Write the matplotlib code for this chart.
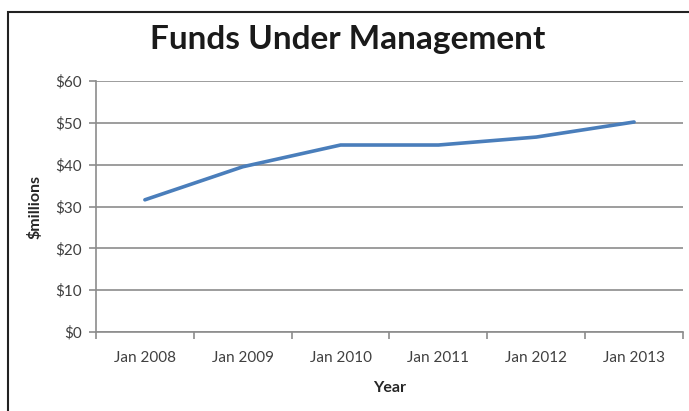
import matplotlib
matplotlib.use("Agg")
import matplotlib.pyplot as plt
from matplotlib.patches import Rectangle
import numpy as np

years = ["Jan 2008", "Jan 2009", "Jan 2010", "Jan 2011", "Jan 2012", "Jan 2013"]
funds = [31.6, 39.5, 44.7, 44.7, 46.6, 50.2]
yticks = [0, 10, 20, 30, 40, 50, 60]

plt.rcParams['font.family'] = ['Lato', 'DejaVu Sans']

fig = plt.figure(figsize=(6.89, 4.11), dpi=100)
ax = fig.add_axes([0.1393, 0.1922, 0.852, 0.6107])

x = np.arange(len(years))
ax.plot(x, funds, color="#4a7ebb", linewidth=2.6, solid_capstyle="round", zorder=3)

ax.set_xlim(-0.5, len(years) - 0.5)
ax.set_ylim(0, 60)
ax.set_yticks(yticks)
ax.set_yticklabels([f"${v}" for v in yticks], color="#404040", fontsize=11)
ax.yaxis.grid(True, color="#8c8c8c", linewidth=1.2)
ax.set_axisbelow(True)

ax.set_xticks(np.arange(-0.5, len(years)))
ax.set_xticklabels([])
ax.set_xticks(x, minor=True)
ax.set_xticklabels(years, minor=True, color="#404040", fontsize=11)
ax.tick_params(axis="x", which="minor", length=0, pad=14)
ax.tick_params(axis="x", which="major", length=5, color="#8c8c8c", width=1.2)
ax.tick_params(axis="y", length=5, color="#8c8c8c", width=1.2, pad=5)

for s in ["top", "right"]:
    ax.spines[s].set_visible(False)
for s in ["left", "bottom"]:
    ax.spines[s].set_color("#8c8c8c")
    ax.spines[s].set_linewidth(1.2)

ax.set_xlabel("Year", fontsize=11.5, fontweight="bold", color="#262626", labelpad=11)
ax.set_ylabel("$millions", fontsize=11.5, fontweight="bold", color="#262626", labelpad=9)
fig.text(0.505, 0.905, "Funds Under Management", ha="center", va="center",
         fontsize=24, fontweight="bold", color="#1a1a1a")

# outer chart border (runs off the right and bottom edges)
fig.patches.append(Rectangle((8 / 689, -0.05), 1.1, 1.05 - 12 / 411,
                             transform=fig.transFigure, fill=False,
                             edgecolor="#222222", linewidth=1.5))

fig.savefig("out.png", dpi=100)
